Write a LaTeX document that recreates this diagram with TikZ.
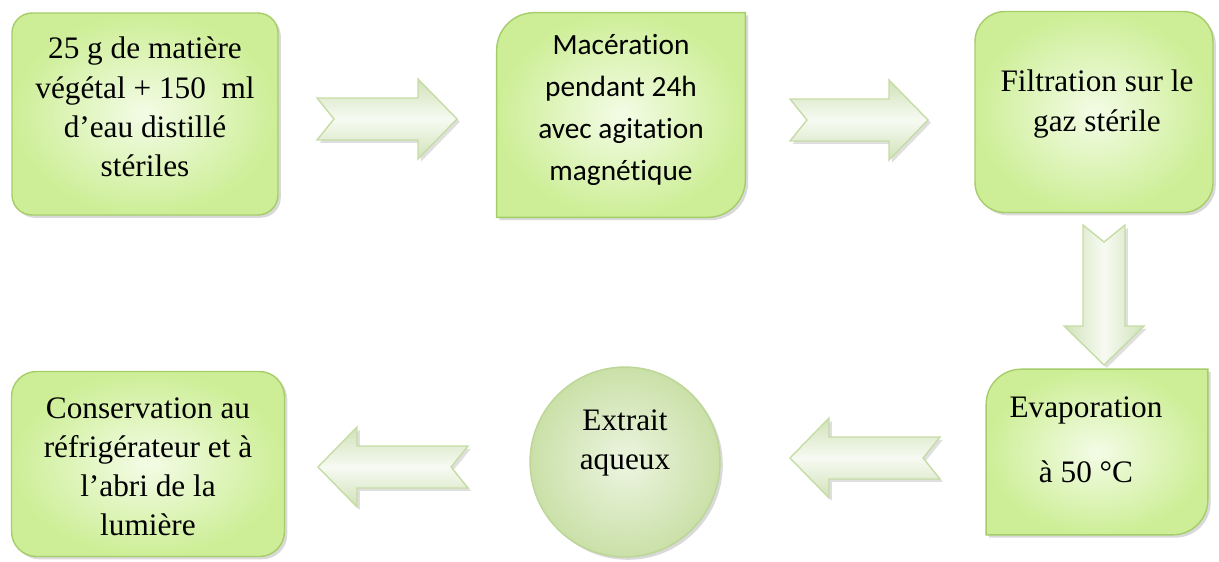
\documentclass[tikz,border=0pt]{standalone}
\usepackage{fontspec}
\setmainfont{Liberation Serif}
\newfontfamily\calibri[Ligatures=NoCommon]{Carlito}
\usetikzlibrary{calc,shadows}

\definecolor{boxedge}{RGB}{165,205,105}
\definecolor{boxout}{RGB}{205,238,150}
\definecolor{boxin}{RGB}{243,252,230}
\definecolor{arredge}{RGB}{198,220,165}
\definecolor{arrdark}{RGB}{208,226,185}
\definecolor{arrlight}{RGB}{247,250,242}
\definecolor{discout}{RGB}{202,224,168}
\definecolor{discin}{RGB}{236,245,224}
\definecolor{discedge}{RGB}{188,214,150}

% notched block arrow, tail #2 to tip #3
\newcommand{\blockarrow}[3][]{%
  \coordinate (hd) at ($(#3)!0.78cm!(#2)$);
  \path[flow,#1] ($(#2)!0.42cm!90:(#3)$) -- ($(hd)!0.42cm!90:(#3)$) -- ($(hd)!0.8cm!90:(#3)$) -- (#3)
    -- ($(hd)!0.8cm!-90:(#3)$) -- ($(hd)!0.42cm!-90:(#3)$) -- ($(#2)!0.42cm!-90:(#3)$)
    -- ($(#2)!0.34cm!(#3)$) -- cycle;}

\begin{document}
\begin{tikzpicture}[x=0.02cm, y=-0.02cm,
  stepbox/.style={line width=0.8pt, draw=boxedge, shade, inner color=boxin, outer color=boxout,
    inner sep=0pt, outer sep=0pt,
    drop shadow={shadow xshift=1.6pt, shadow yshift=-1.6pt, opacity=0.3}},
  stepdisc/.style={stepbox, circle, draw=discedge, inner color=discin, outer color=discout},
  flow/.style={line width=0.8pt, draw=arredge, top color=arrdark, bottom color=arrdark,
    middle color=arrlight,
    drop shadow={shadow xshift=1.6pt, shadow yshift=-1.6pt, opacity=0.25}},
  serif/.style={align=center, font=\fontsize{17.8}{22.3}\selectfont},
  sans/.style={align=center, font=\calibri\fontsize{16.7}{23.8}\selectfont}]
\useasboundingbox (0,0) rectangle (1219,561);

%steps
\node[stepbox, rounded corners=0.4cm, minimum width=5.32cm, minimum height=4.04cm] (box1) at (145,114) {};
\node[inner sep=0pt, minimum width=4.96cm, minimum height=4.08cm] (box2) at (621,115) {};
\path[stepbox] (box2.north east) -- ([yshift=0.75cm]box2.south east)
  arc[start angle=0, end angle=-90, radius=0.75cm] -- (box2.south west)
  -- ([yshift=-0.75cm]box2.north west) arc[start angle=180, end angle=90, radius=0.75cm] -- cycle;
\node[stepbox, rounded corners=0.6cm, minimum width=4.76cm, minimum height=4.02cm] (box3) at (1094,112) {};
\node[inner sep=0pt, minimum width=4.42cm, minimum height=3.3cm] (box4) at (1097,452) {};
\path[stepbox] (box4.north east) -- ([yshift=0.7cm]box4.south east)
  arc[start angle=0, end angle=-90, radius=0.7cm] -- (box4.south west)
  -- ([yshift=-0.7cm]box4.north west) arc[start angle=180, end angle=90, radius=0.7cm] -- cycle;
\node[stepdisc, minimum size=3.8cm] (extrait) at (625,462) {};
\node[stepbox, rounded corners=0.5cm, minimum width=5.46cm, minimum height=3.7cm] (box5) at (148,464) {};

%arrow ends
\coordinate (a1s) at (317,119);  \coordinate (a1e) at (457,119);
\coordinate (a2s) at (790,120);  \coordinate (a2e) at (928,120);
\coordinate (a3s) at (1104,225); \coordinate (a3e) at (1104,365);
\coordinate (a4s) at (940,458);  \coordinate (a4e) at (790,458);
\coordinate (a5s) at (468,467);  \coordinate (a5e) at (318,467);

\blockarrow{a1s}{a1e}
\blockarrow{a2s}{a2e}
\blockarrow[shading angle=90]{a3s}{a3e}
\blockarrow{a4s}{a4e}
\blockarrow{a5s}{a5e}

%texts
\node[serif] (t1) at (145,107) {25 g de matière\\végétal + 150 \ ml\\d’eau distillé\\stériles};
\node[sans] (t2) at (621,110) {Macération\\pendant 24h\\avec agitation\\magnétique};
\node[serif] (t3) at (1097,104) {Filtration sur le\\gaz stérile};
\node[serif] (t4) at (1086,440) {Evaporation\\[14.7pt]à 50 °C};
\node[serif] (t6) at (625,443) {Extrait\\aqueux};
\node[serif] (t5) at (148,467) {Conservation au\\réfrigérateur et à\\l’abri de la\\lumière};

\end{tikzpicture}
\end{document}
